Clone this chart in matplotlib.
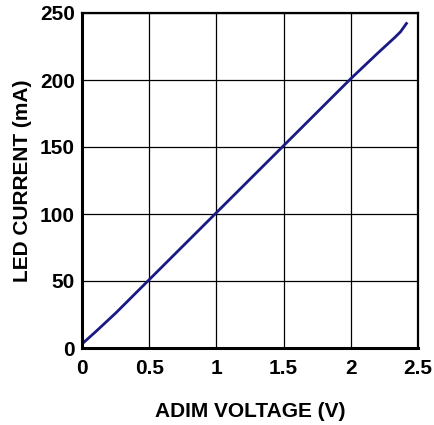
import matplotlib
matplotlib.use("Agg")
import matplotlib.pyplot as plt

adim_v = [0.0, 0.1, 0.25, 0.5, 0.75, 1.0, 1.25, 1.5, 1.75, 2.0, 2.2, 2.33, 2.37, 2.42]
led_ma = [3, 12, 26, 51, 76, 101, 126, 151, 176, 201, 220, 232, 236, 243]
xticks = [0, 0.5, 1, 1.5, 2, 2.5]
xtick_labels = ["0", "0.5", "1", "1.5", "2", "2.5"]
yticks = [0, 50, 100, 150, 200, 250]

plt.rcParams['font.family'] = ['Liberation Sans', 'DejaVu Sans']
fig = plt.figure(figsize=(4.34, 4.25), dpi=100)
ax = fig.add_axes([82/434, 1 - 348/425, (418-82)/434, (348-13)/425])
ax.plot(adim_v, led_ma, color='#1a1a85', lw=2.0, solid_capstyle='butt')
ax.set_xlim(0, 2.5)
ax.set_ylim(0, 250)
ax.set_xticks(xticks)
ax.set_xticklabels(xtick_labels)
ax.set_yticks(yticks)
ax.grid(True, color='black', lw=0.9)
ax.tick_params(length=0, labelsize=15, pad=8)
ax.tick_params(axis='y', pad=5)
for lab in ax.get_xticklabels() + ax.get_yticklabels():
    lab.set_fontweight('bold')
for s in ax.spines.values():
    s.set_linewidth(1.6)
ax.spines['left'].set_linewidth(2.2)
ax.spines['bottom'].set_linewidth(2.2)
ax.set_xlabel("ADIM VOLTAGE (V)", fontsize=15, fontweight='bold', labelpad=17)
ax.set_ylabel("LED CURRENT (mA)", fontsize=15, fontweight='bold', labelpad=6)
fig.savefig("out.png", dpi=100)
